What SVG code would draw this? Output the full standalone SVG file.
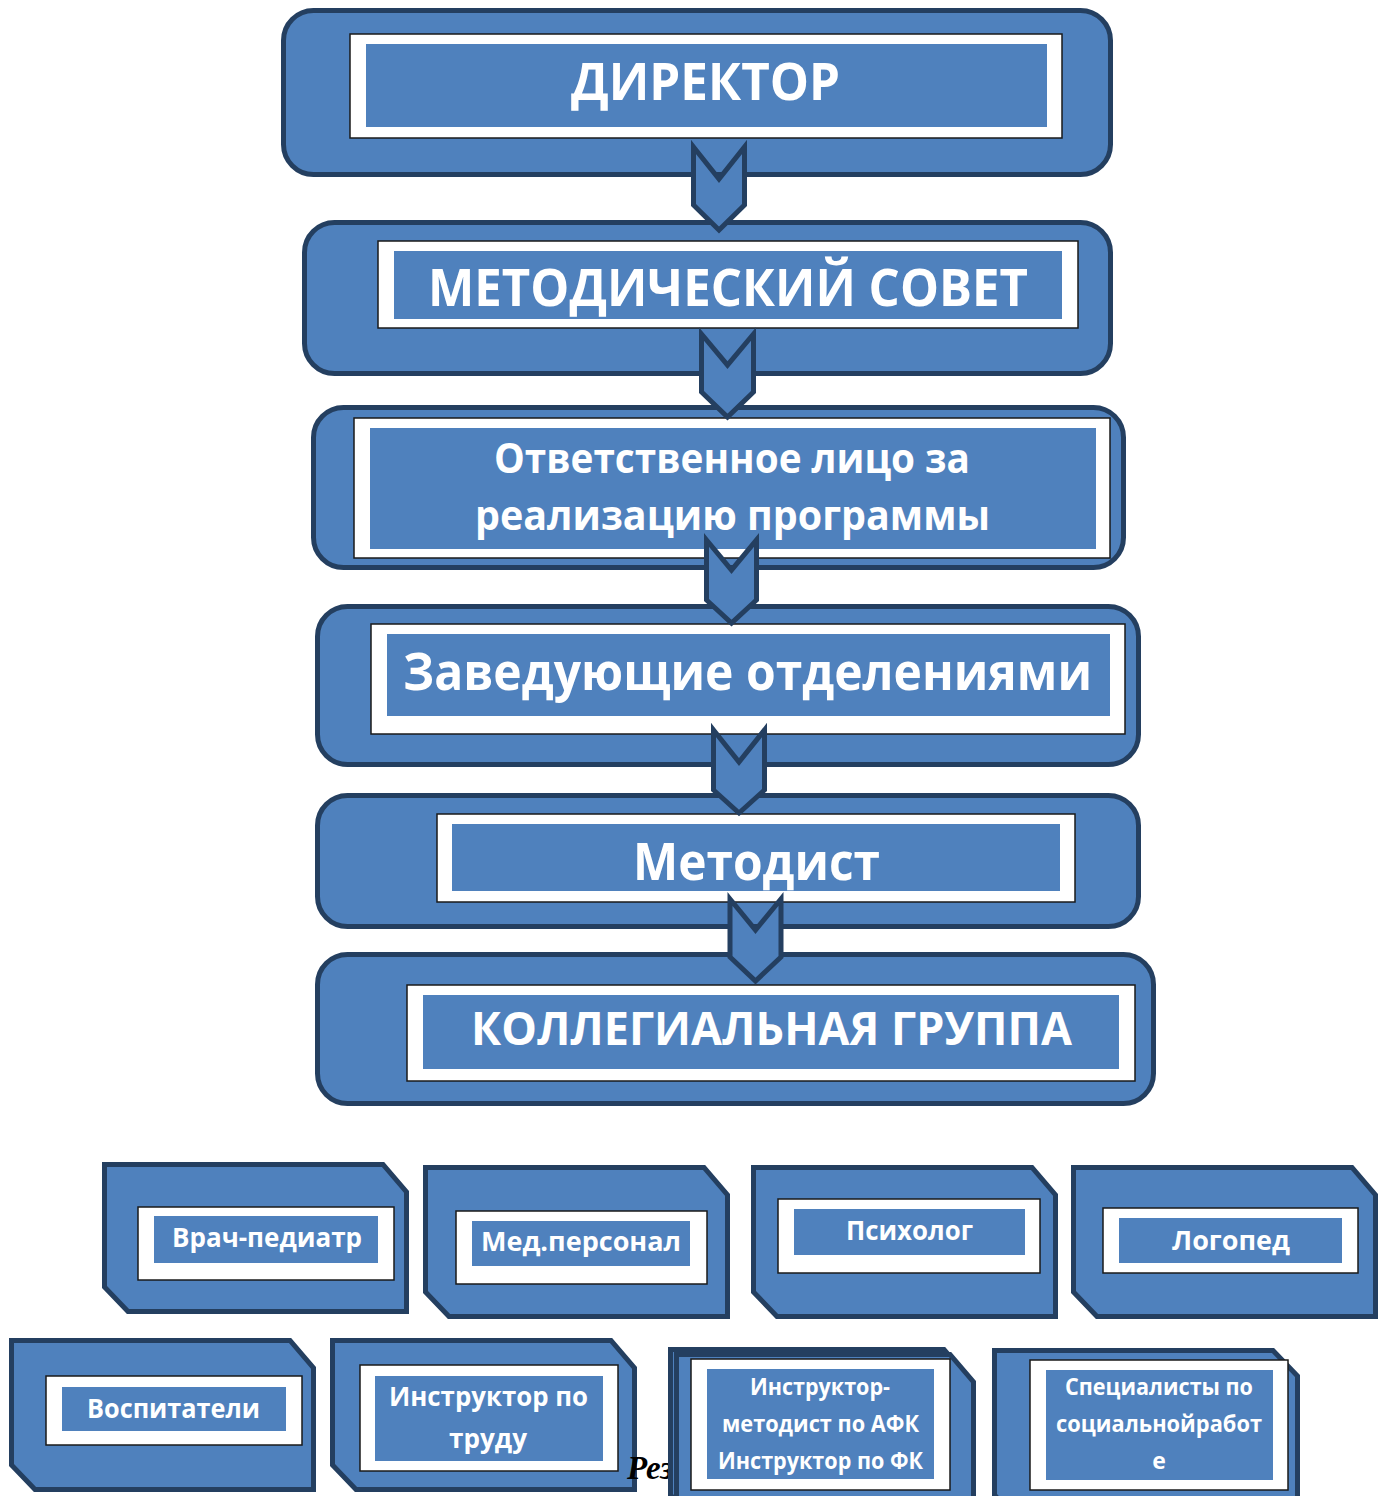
<svg xmlns="http://www.w3.org/2000/svg" width="1384" height="1496" viewBox="0 0 1384 1496">
<style>
.outer{fill:#4F81BD;stroke:#243F60;stroke-width:5;stroke-linejoin:round}
.snip{fill:#4F81BD;stroke:#243F60;stroke-width:5;stroke-linejoin:miter}
.white{fill:#FFFFFF;stroke:#1a1a1a;stroke-width:1.5}
.blue{fill:#4F81BD}
.arrow{fill:#4F81BD;stroke:#243F60;stroke-width:5;stroke-linejoin:miter}
text{font-family:"Open Sans","Noto Sans","Liberation Sans",sans-serif;font-weight:700;fill:#FFFFFF;text-anchor:middle}
.big{font-size:52px}
.mid{font-size:42px}
.sm{font-size:27px}
.xs{font-size:23px}
.rez{font-family:"Liberation Serif","Times New Roman",serif;font-style:italic;font-weight:700;font-size:33px;fill:#000000;text-anchor:start}
</style>
<g id="nodes">
<g id="n-director">
<rect class="outer" x="283.5" y="10.5" width="827" height="164" rx="30"/>
<rect class="white" x="350" y="34" width="712" height="104"/>
<rect class="blue" x="366" y="44" width="681" height="83"/>
<text class="big" x="705.5" y="100" textLength="269" lengthAdjust="spacingAndGlyphs">ДИРЕКТОР</text>
</g>
<g id="n-metsovet">
<rect class="outer" x="304.5" y="222.5" width="806" height="151" rx="30"/>
<rect class="white" x="378" y="241" width="700" height="87"/>
<rect class="blue" x="394" y="251" width="668" height="68"/>
<text class="big" x="728" y="306" textLength="600" lengthAdjust="spacingAndGlyphs">МЕТОДИЧЕСКИЙ СОВЕТ</text>
</g>
<g id="n-responsible">
<rect class="outer" x="313.5" y="407.5" width="810" height="160" rx="30"/>
<rect class="white" x="354" y="418" width="756" height="140"/>
<rect class="blue" x="370" y="428" width="726" height="121"/>
<text class="mid" x="732" y="473" textLength="476" lengthAdjust="spacingAndGlyphs">Ответственное лицо за</text>
<text class="mid" x="732.5" y="530" textLength="515" lengthAdjust="spacingAndGlyphs">реализацию программы</text>
</g>
<g id="n-heads">
<rect class="outer" x="317.5" y="606.5" width="821" height="158" rx="30"/>
<rect class="white" x="371" y="624" width="754" height="110"/>
<rect class="blue" x="387" y="634" width="723" height="82"/>
<text class="big" x="747.5" y="690" textLength="689" lengthAdjust="spacingAndGlyphs">Заведующие отделениями</text>
</g>
<g id="n-methodist">
<rect class="outer" x="317.5" y="795.5" width="821" height="131" rx="30"/>
<rect class="white" x="437" y="814" width="638" height="88"/>
<rect class="blue" x="452" y="824" width="608" height="67"/>
<text class="big" x="756.5" y="880" textLength="247" lengthAdjust="spacingAndGlyphs">Методист</text>
</g>
<g id="n-collegial">
<rect class="outer" x="317.5" y="954.5" width="836" height="149" rx="30"/>
<rect class="white" x="407" y="985" width="728" height="96"/>
<rect class="blue" x="423" y="995" width="696" height="74"/>
<text class="big" x="771.5" y="1045" style="font-size:47px" textLength="601" lengthAdjust="spacingAndGlyphs">КОЛЛЕГИАЛЬНАЯ ГРУППА</text>
</g>
<g id="n-pediatr">
<path class="snip" d="M104.5 1164.5 H383 L406.5 1192 V1311.5 H128 L104.5 1287 Z"/>
<rect class="white" x="138" y="1207" width="256" height="73"/>
<rect class="blue" x="154" y="1216" width="224" height="47"/>
<text class="sm" x="267" y="1247" textLength="190" lengthAdjust="spacingAndGlyphs">Врач-педиатр</text>
</g>
<g id="n-medstaff">
<path class="snip" d="M425.5 1167.5 H704 L727.5 1195 V1316.5 H449 L425.5 1292 Z"/>
<rect class="white" x="456" y="1211" width="251" height="73"/>
<rect class="blue" x="472" y="1221" width="218" height="45"/>
<text class="sm" x="581" y="1251" textLength="200" lengthAdjust="spacingAndGlyphs">Мед.персонал</text>
</g>
<g id="n-psych">
<path class="snip" d="M753.5 1167.5 H1032 L1055.5 1195 V1316.5 H777 L753.5 1292 Z"/>
<rect class="white" x="778" y="1199" width="262" height="74"/>
<rect class="blue" x="794" y="1209" width="231" height="46"/>
<text class="sm" x="909.5" y="1240" textLength="127" lengthAdjust="spacingAndGlyphs">Психолог</text>
</g>
<g id="n-logoped">
<path class="snip" d="M1073.5 1167.5 H1352 L1375.5 1195 V1316.5 H1097 L1073.5 1292 Z"/>
<rect class="white" x="1103" y="1208" width="255" height="65"/>
<rect class="blue" x="1119" y="1218" width="223" height="45"/>
<text class="sm" x="1231" y="1250" textLength="118" lengthAdjust="spacingAndGlyphs">Логопед</text>
</g>
<g id="n-educators">
<path class="snip" d="M11.5 1340.5 H290 L313.5 1368 V1489.5 H35 L11.5 1465 Z"/>
<rect class="white" x="46" y="1376" width="256" height="69"/>
<rect class="blue" x="62" y="1387" width="224" height="44"/>
<text class="sm" x="173.5" y="1418" textLength="173" lengthAdjust="spacingAndGlyphs">Воспитатели</text>
</g>
<g id="n-labour">
<path class="snip" d="M332.5 1340.5 H611 L634.5 1368 V1489.5 H356 L332.5 1465 Z"/>
<rect class="white" x="360" y="1365" width="258" height="106"/>
<rect class="blue" x="375" y="1376" width="228" height="85"/>
<text class="sm" x="488.5" y="1406" textLength="199" lengthAdjust="spacingAndGlyphs">Инструктор по</text>
<text class="sm" x="488" y="1448" textLength="78" lengthAdjust="spacingAndGlyphs">труду</text>
</g>
<text class="rez" x="627" y="1479">Рез</text>
<g id="n-afk">
<path class="snip" d="M670.5 1349.5 H944 L967.5 1377 V1520 H694 L670.5 1495 Z"/>
<path class="snip" d="M676.5 1354.5 H950 L973.5 1382 V1520 H700 L676.5 1500 Z"/>
<rect class="white" x="691" y="1359" width="259" height="131"/>
<rect class="blue" x="707" y="1369" width="227" height="110"/>
<text class="xs" x="820" y="1395" textLength="140" lengthAdjust="spacingAndGlyphs">Инструктор-</text>
<text class="xs" x="820.5" y="1432" textLength="197" lengthAdjust="spacingAndGlyphs">методист по АФК</text>
<text class="xs" x="820.5" y="1469" textLength="205" lengthAdjust="spacingAndGlyphs">Инструктор по ФК</text>
</g>
<g id="n-social">
<path class="snip" d="M994.5 1350.5 H1273 L1297.5 1376 V1520 H1018 L994.5 1495 Z"/>
<rect class="white" x="1030" y="1360" width="258" height="130"/>
<rect class="blue" x="1046" y="1370" width="227" height="110"/>
<text class="xs" x="1159" y="1395" textLength="188" lengthAdjust="spacingAndGlyphs">Специалисты по</text>
<text class="xs" x="1159" y="1432" textLength="206" lengthAdjust="spacingAndGlyphs">социальнойработ</text>
<text class="xs" x="1159" y="1469">е</text>
</g>
</g>
<g id="connectors">
<path class="arrow" d="M693.5 147 L719 179 L744.5 147 V205 L719 230 L693.5 205 Z"/>
<path class="arrow" d="M701.5 334 L727.5 365 L753.5 334 V392 L727.5 417 L701.5 392 Z"/>
<path class="arrow" d="M706.5 540 L731.5 570 L756.5 540 V600 L731.5 623 L706.5 600 Z"/>
<path class="arrow" d="M713.5 730 L739 762 L764.5 730 V790 L739 813 L713.5 790 Z"/>
<path class="arrow" d="M730 899 L755.5 930 L781 899 V957 L755.5 981 L730 957 Z"/>
</g>
</svg>
